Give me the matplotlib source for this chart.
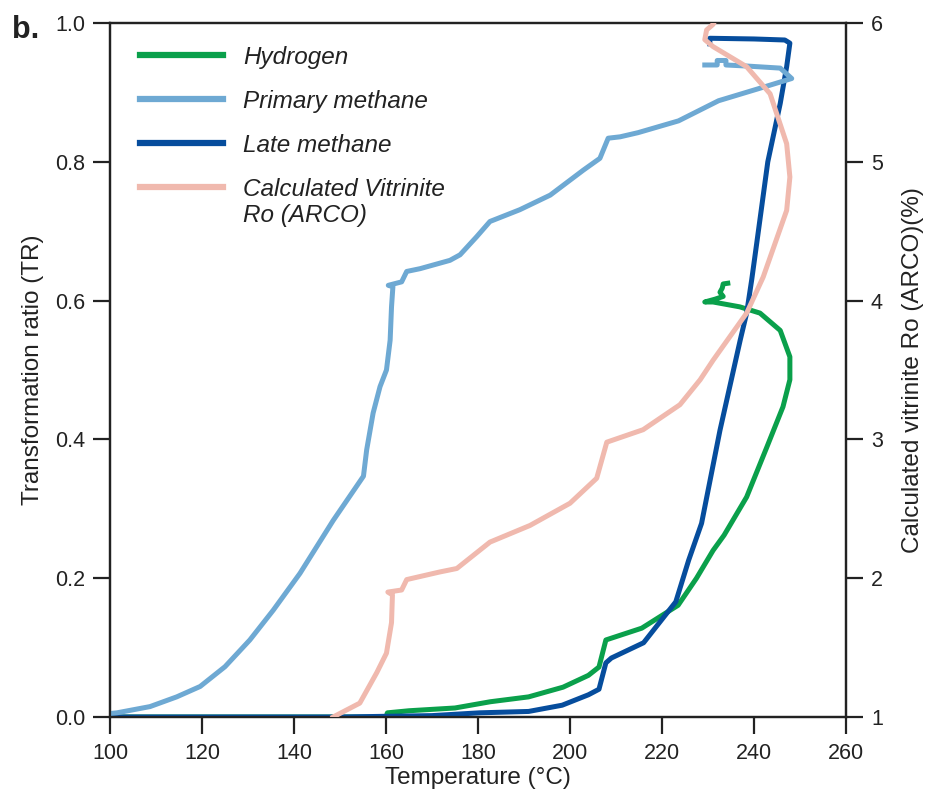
import matplotlib
matplotlib.use("Agg")
import matplotlib.pyplot as plt

plt.rcParams['font.family'] = ['Liberation Sans', 'DejaVu Sans']

# ---------------- data ----------------
h2_T = [100, 130, 160, 160.3, 165, 175, 182.7, 191, 198.5, 204, 206.3, 207.8, 215.6,
        223.5, 227.5, 231.1, 233.5, 238.4, 242.8, 246.3, 247.8, 247.8, 245.7, 241.3,
        236.9, 231.1, 229.3, 231.5, 233.3, 232.6, 233.1, 233.3, 234.3]
h2_TR = [0.0, 0.0, 0.0, 0.006, 0.009, 0.013, 0.022, 0.029, 0.043, 0.06, 0.072, 0.111, 0.128,
         0.161, 0.2, 0.24, 0.262, 0.317, 0.389, 0.447, 0.486, 0.519, 0.557, 0.582,
         0.591, 0.598, 0.598, 0.602, 0.606, 0.612, 0.618, 0.624, 0.625]

pm_T = [100, 101.5, 108.7, 114.5, 119.6, 125, 130.4, 135.5, 141.3, 144.9, 148.5, 151.8,
        155.1, 155.8, 157.2, 158.7, 160.1, 160.9, 161.2, 161.5, 160.5, 163.4, 164.5,
        167.4, 173.9, 176.1, 179.7, 182.6, 189.1, 195.7, 202.9, 206.5, 208.3, 210.9,
        214.8, 223.6, 232.3, 240.8, 248.2, 245.7, 238.4, 233.9, 233.9, 232.0, 232.0, 229.3]
pm_TR = [0.005, 0.006, 0.015, 0.029, 0.044, 0.0725, 0.111, 0.154, 0.207, 0.245, 0.283, 0.315,
         0.347, 0.385, 0.438, 0.476, 0.5, 0.543, 0.591, 0.62, 0.622, 0.627, 0.642,
         0.646, 0.658, 0.666, 0.692, 0.714, 0.731, 0.752, 0.788, 0.805, 0.834, 0.836,
         0.842, 0.859, 0.888, 0.905, 0.92, 0.935, 0.938, 0.9395, 0.946, 0.946, 0.9395, 0.9395]

lm_T = [100, 150, 170, 180.3, 191, 198.3, 204, 206.3, 207.8, 209, 216, 223, 225.8, 228.6,
        232.6, 237.0, 238.4, 239.5, 240.6, 243, 245.7, 247.1, 247.8, 246.7, 240, 230.4, 230.4]
lm_TR = [0.0, 0.0, 0.002, 0.006, 0.008, 0.017, 0.032, 0.04, 0.078, 0.085, 0.107, 0.166, 0.226,
         0.279, 0.413, 0.543, 0.582, 0.63, 0.683, 0.80, 0.884, 0.937, 0.971, 0.9755, 0.977,
         0.978, 0.97]

ro_T = [148.5, 154.3, 158, 160.1, 161.2, 161.4, 160.4, 163.4, 164.5, 171.7, 175.4, 182.6,
        191.3, 200, 205.8, 208, 215.9, 223.9, 228.3, 231.1, 238.4, 242.0, 247.1, 247.8,
        247.1, 243.5, 238.4, 231.1, 229.3, 229.7, 231.1, 231.7]
ro_val = [1.0, 1.10, 1.32, 1.46, 1.68, 1.88, 1.90, 1.915, 1.99, 2.045, 2.07, 2.26,
          2.38, 2.54, 2.72, 2.98, 3.07, 3.25, 3.43, 3.57, 3.91, 4.17, 4.65, 4.89,
          5.13, 5.49, 5.685, 5.83, 5.88, 5.95, 5.99, 6.03]

x_ticks = [100, 120, 140, 160, 180, 200, 220, 240, 260]
y_ticks = [0.0, 0.2, 0.4, 0.6, 0.8, 1.0]
y2_ticks = [1, 2, 3, 4, 5, 6]

labels = ["Hydrogen", "Primary methane", "Late methane", "Calculated Vitrinite"]
label_extra = "Ro (ARCO)"

c_h2 = "#0aa04b"
c_pm = "#6ea9d3"
c_lm = "#064d9d"
c_ro = "#f0b9ae"

# ---------------- figure ----------------
fig = plt.figure(figsize=(9.28, 8.01), dpi=100)
ax = fig.add_axes([110 / 928, 84 / 801, 736 / 928, 694 / 801])
ax2 = ax.twinx()

lw = 3.6
l1, = ax.plot(h2_T, h2_TR, color=c_h2, lw=lw, solid_joinstyle='round', zorder=3)
l3, = ax.plot(lm_T, lm_TR, color=c_lm, lw=lw, solid_joinstyle='round', zorder=3)
l2, = ax.plot(pm_T, pm_TR, color=c_pm, lw=lw, solid_joinstyle='round', zorder=3)
l4, = ax2.plot(ro_T, ro_val, color=c_ro, lw=lw, solid_joinstyle='round', zorder=3)

ax.set_xlim(100, 260)
ax.set_ylim(0, 1.0)
ax2.set_ylim(1, 6)
ax.set_xticks(x_ticks)
ax.set_yticks(y_ticks)
ax.set_yticklabels([f"{v:.1f}" for v in y_ticks])
ax2.set_yticks(y2_ticks)

tick_fs = 15.5
for a in (ax, ax2):
    for s in a.spines.values():
        s.set_linewidth(1.6)
        s.set_color("#222222")
    a.tick_params(direction='out', length=12, width=1.6, color="#222222",
                  labelsize=tick_fs, pad=6, labelcolor="#222222")
ax.tick_params(axis='x', pad=7)

ax.set_xlabel("Temperature (°C)", fontsize=17.5, labelpad=2, color="#222222")
ax.set_ylabel("Transformation ratio (TR)", fontsize=17.5, labelpad=8, color="#222222")
ax2.set_ylabel("Calculated vitrinite Ro (ARCO)(%)", fontsize=17.5, labelpad=14, color="#222222")

leg_fs = 17.5
leg = ax2.legend([l1, l2, l3, l4], labels, loc='upper left',
                 bbox_to_anchor=((140 - 110) / 736, (717 - 46) / 694),
                 frameon=False, handlelength=3.4,
                 handletextpad=0.85, labelspacing=0.86, borderpad=0, borderaxespad=0,
                 prop={'style': 'italic', 'size': leg_fs})
for t in leg.get_texts():
    t.set_color("#222222")
for lh in leg.get_lines():
    lh.set_linewidth(4.5)

fig.canvas.draw()
ax2.annotate(label_extra, xy=(0, 0), xycoords=leg.get_texts()[3],
             xytext=(0, -3), textcoords='offset pixels', va='top', ha='left',
             fontsize=leg_fs, style='italic', color="#222222", zorder=10,
             annotation_clip=False)

fig.text(12 / 928, 1 - 30 / 801, "b.", fontsize=22, fontweight='bold',
         va='center', ha='left', color="#222222")

fig.savefig("out.png", dpi=100)
